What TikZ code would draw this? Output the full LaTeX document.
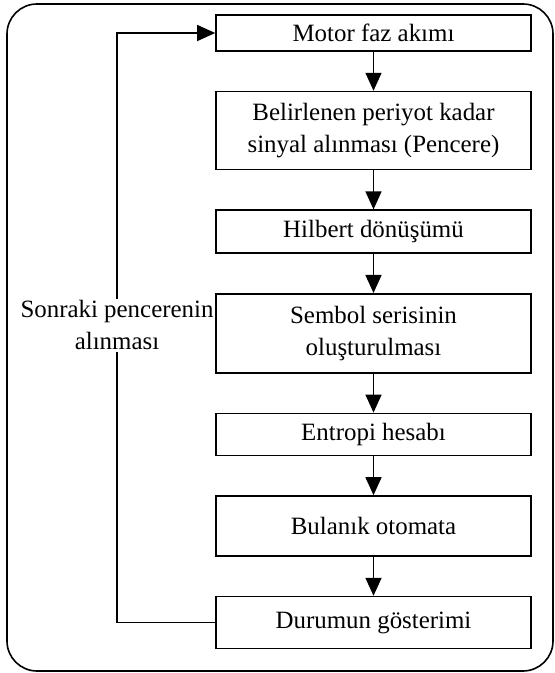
\documentclass[tikz,border=0pt]{standalone}
\usepackage{fontspec}
\setmainfont{Liberation Serif}
\usetikzlibrary{arrows.meta,positioning}
\def \tu {7.8bp}

\begin{document}
\begin{tikzpicture}[x=1bp,y=1bp,node distance=5*\tu,
    >={Triangle[length=18bp,width=16bp]},
    every node/.style={font=\fontsize{25}{32}\selectfont},
    blok/.style={draw,line width=1.6bp,minimum width=315bp,align=center,inner sep=2bp}]
    \useasboundingbox (0,0) rectangle (555,673);
    \draw[line width=1.6bp,rounded corners=30bp] (7,2) rectangle (553,669);
    \node[blok,minimum height=36bp] (motor) at (373.5,640) {Motor faz akımı};
    \node[blok,minimum height=78bp,below=of motor] (pencere) {Belirlenen periyot kadar\\sinyal alınması (Pencere)};
    \node[blok,minimum height=43bp,below=of pencere] (hilbert) {Hilbert dönüşümü};
    \node[blok,minimum height=79bp,below=of hilbert] (sembol) {Sembol serisinin\\oluşturulması};
    \node[blok,minimum height=42bp,below=of sembol] (entropi) {Entropi hesabı};
    \node[blok,minimum height=60bp,below=of entropi] (otomata) {Bulanık otomata};
    \node[blok,minimum height=52bp,below=of otomata] (durum) {Durumun gösterimi};
    \coordinate (geri) at ([yshift=8bp]117,0 |- sembol);
    \path[->,line width=1.5bp] (motor) edge (pencere);
    \path[->,line width=1.5bp] (pencere) edge (hilbert);
    \path[->,line width=1.5bp] (hilbert) edge (sembol);
    \path[->,line width=1.5bp] (sembol) edge (entropi);
    \path[->,line width=1.5bp] (entropi) edge (otomata);
    \path[->,line width=1.5bp] (otomata) edge (durum);
    \draw[->,line width=1.3bp] (durum.west) -| (geri) |- (motor.west);
    \node[fill=white,align=center,inner xsep=1bp,inner ysep=2bp] (donus) at (geri) {Sonraki pencerenin\\alınması};
\end{tikzpicture}
\end{document}
